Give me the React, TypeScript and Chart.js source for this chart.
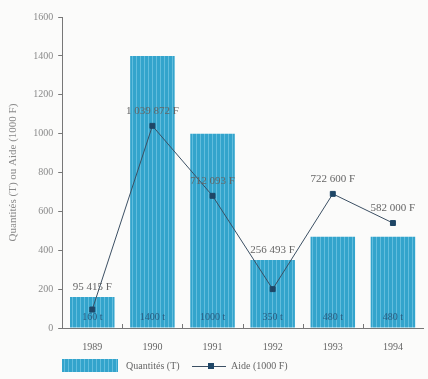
import React, { useEffect, useRef } from "react";
import { Chart, registerables } from "chart.js";

Chart.register(...registerables);

const years = ["1989", "1990", "1991", "1992", "1993", "1994"];
const quantites = [160, 1400, 1000, 350, 470, 470];
const aide = [95, 1040, 680, 200, 690, 540];
const aideLabels = ["95 415 F", "1 039 872 F", "712 093 F", "256 493 F", "722 600 F", "582 000 F"];
const quantiteLabels = ["160 t", "1400 t", "1000 t", "350 t", "480 t", "480 t"];
const yTicks = [0, 200, 400, 600, 800, 1000, 1200, 1400, 1600];

const FONT = "'Liberation Serif', 'DejaVu Serif', serif";

function makePattern(): CanvasPattern | string {
  const c = document.createElement("canvas");
  c.width = 4;
  c.height = 4;
  const g = c.getContext("2d");
  if (!g) return "#35a6cd";
  g.fillStyle = "#33a4cc";
  g.fillRect(0, 0, 4, 4);
  g.fillStyle = "#62bddd";
  g.fillRect(0, 0, 1, 4);
  return g.createPattern(c, "repeat") || "#35a6cd";
}

export default function App() {
  const ref = useRef<HTMLCanvasElement>(null);
  useEffect(() => {
    document.body.style.margin = "0";
    document.body.style.background = "#fbfbfa";
    const canvas = ref.current;
    if (!canvas) return;
    const pattern = makePattern();

    const labelPlugin = {
      id: "labels",
      afterDatasetsDraw(chart: any) {
        const ctx = chart.ctx;
        const barMeta = chart.getDatasetMeta(1);
        const lineMeta = chart.getDatasetMeta(0);
        ctx.save();
        // in-bar labels
        ctx.font = `10px ${FONT}`;
        ctx.fillStyle = "#2a5c80";
        ctx.textAlign = "center";
        ctx.textBaseline = "middle";
        const yBase = chart.scales.y.getPixelForValue(0);
        barMeta.data.forEach((b: any, i: number) => {
          ctx.fillText(quantiteLabels[i], b.x, yBase - 11);
        });
        // line labels
        ctx.fillStyle = "#666";
        ctx.font = `11px ${FONT}`;
        ctx.textBaseline = "alphabetic";
        lineMeta.data.forEach((p: any, i: number) => {
          const bar = barMeta.data[i];
          let y = p.y - 12;
          if (p.y > bar.y && p.y - bar.y < 50) y = bar.y - 7;
          ctx.fillText(aideLabels[i], p.x, y);
        });
        // inward x ticks at category boundaries
        const xs = chart.scales.x;
        ctx.strokeStyle = "#777";
        ctx.lineWidth = 1;
        for (let i = 1; i < years.length; i++) {
          const x = Math.round((xs.getPixelForValue(i - 1) + xs.getPixelForValue(i)) / 2) + 0.5;
          ctx.beginPath();
          ctx.moveTo(x, yBase);
          ctx.lineTo(x, yBase - 4);
          ctx.stroke();
        }
        // legend
        const ly = 366;
        ctx.fillStyle = pattern as any;
        ctx.fillRect(62, ly - 7, 56, 13);
        ctx.fillStyle = "#666";
        ctx.font = `10px ${FONT}`;
        ctx.textAlign = "left";
        ctx.textBaseline = "middle";
        ctx.fillText("Quantités (T)", 126, ly);
        ctx.strokeStyle = "#3b4f63";
        ctx.beginPath();
        ctx.moveTo(192, ly + 0.5);
        ctx.lineTo(226, ly + 0.5);
        ctx.stroke();
        ctx.fillStyle = "#1f4666";
        ctx.fillRect(208, ly - 3, 6, 6);
        ctx.fillStyle = "#666";
        ctx.fillText("Aide (1000 F)", 231, ly);
        ctx.restore();
      },
    };

    const chart = new Chart(canvas, {
      type: "bar",
      data: {
        labels: years,
        datasets: [
          {
            type: "line",
            label: "Aide (1000 F)",
            data: aide,
            borderColor: "#3b4f63",
            borderWidth: 1,
            backgroundColor: "#1f4666",
            pointStyle: "rect",
            pointRadius: 3.5,
            pointBackgroundColor: "#1f4666",
            pointBorderColor: "#1f4666",
            tension: 0,
            order: 0,
          } as any,
          {
            type: "bar",
            label: "Quantités (T)",
            data: quantites,
            backgroundColor: pattern as any,
            borderWidth: 0,
            barPercentage: 0.74,
            categoryPercentage: 1,
            order: 1,
          },
        ],
      },
      options: {
        responsive: false,
        animation: false,
        layout: { padding: { top: 17, right: 0, bottom: 21, left: 7 } },
        plugins: { legend: { display: false }, tooltip: { enabled: false } },
        scales: {
          x: {
            grid: { display: false, offset: true },
            border: { display: true, color: "#777" },
            ticks: { color: "#666", font: { family: FONT, size: 10 }, padding: 5 },
          },
          y: {
            min: 0,
            max: 1600,
            afterBuildTicks(axis: any) {
              axis.ticks = yTicks.map((v) => ({ value: v }));
            },
            grid: { drawOnChartArea: false, tickLength: 4, color: "#777" },
            border: { display: true, color: "#777" },
            ticks: {
              color: "#8a8a8a",
              font: { family: FONT, size: 10 },
              padding: 5,
              callback: (v: any) => String(v),
            },
            title: {
              display: true,
              text: "Quantités (T) ou Aide (1000 F)",
              color: "#8a8a8a",
              font: { family: FONT, size: 11 },
              padding: { top: 0, bottom: 8 },
            },
          },
        },
      },
      plugins: [labelPlugin],
    });
    return () => chart.destroy();
  }, []);
  return (
    <div style={{ width: 428, height: 379 }}>
      <canvas ref={ref} width={428} height={379} style={{ display: "block" }} />
    </div>
  );
}
